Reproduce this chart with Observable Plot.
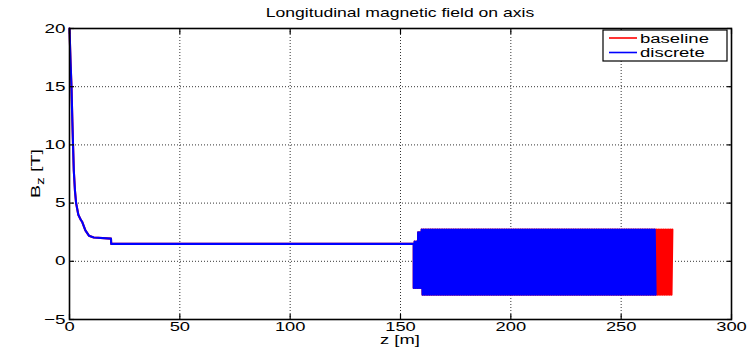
<!DOCTYPE html>
<html><head><meta charset="utf-8">
<script src="https://cdn.jsdelivr.net/npm/d3@7"></script>
<script src="https://cdn.jsdelivr.net/npm/@observablehq/plot@0.6"></script>
<style>
body{margin:0;background:#fff}
svg{font-family:"Liberation Sans",Arial,sans-serif;background:#fff}
</style>
</head><body><div id="chart"></div>
<script>
// ---- data ----
const seriesNames = ["baseline", "discrete"];
const seriesColors = ["#ff0000", "#0000ff"];
const seriesEndZ = [273.4, 266];           // end of the undulator field (m)
// common tapered solenoid part (z in m, Bz in T)
const taperZ = [0, 0.5, 0.9, 1.3, 1.6, 1.95, 2.5, 3.0, 4.0, 5.0, 5.7, 7.2, 8.8, 11, 18.8, 18.9, 156];
const taperB = [20, 17, 15, 12, 10, 7.8, 6, 5, 4.0, 3.6, 3.4, 2.65, 2.2, 2.05, 1.95, 1.5, 1.5];
// oscillating (undulator) part, segments
const oscStartZ = [156, 157.6, 159.6];
const oscHigh = [1.7, 2.5, 2.73];
const oscLow = [-2.3, -2.3, -2.88];
const oscPeriod = 0.8;
const xTicks = [0, 50, 100, 150, 200, 250, 300];
const yTicks = [-5, 0, 5, 10, 15, 20];
const titleText = "Longitudinal magnetic field on axis";
const xLabelText = "z [m]";

function buildSeries(name, endZ) {
  const rows = taperZ.map((z, i) => ({series: name, z, B: taperB[i]}));
  let up = false;
  for (let s = 0; s < oscStartZ.length; s++) {
    const z0 = oscStartZ[s];
    const z1 = s + 1 < oscStartZ.length ? oscStartZ[s + 1] : endZ;
    for (let z = z0; z < z1 - 1e-9; z += oscPeriod / 2) {
      rows.push({series: name, z, B: up ? oscHigh[s] : oscLow[s]});
      up = !up;
    }
  }
  return rows;
}
const rows = seriesNames.flatMap((n, i) => buildSeries(n, seriesEndZ[i]));

const W = 750, H = 348;
const mL = 69, mR = 19, mT = 28, mB = 29;
const FS = 12.4;

const chart = Plot.plot({
  width: W, height: H,
  marginLeft: mL, marginRight: mR, marginTop: mT, marginBottom: mB,
  style: {fontFamily: '"Liberation Sans", Arial, sans-serif', fontSize: FS + "px", color: "#000", background: "#fff"},
  x: {domain: [0, 300]},
  y: {domain: [-5, 20]},
  color: {domain: seriesNames, range: seriesColors},
  marks: [
    Plot.gridX(xTicks, {stroke: "#000", strokeOpacity: 1, strokeWidth: 0.8, strokeDasharray: "1,2"}),
    Plot.gridY(yTicks, {stroke: "#000", strokeOpacity: 1, strokeWidth: 0.8, strokeDasharray: "1,2"}),
    Plot.line(rows, {x: "z", y: "B", z: "series", stroke: "series", strokeWidth: 2.1}),
    Plot.axisX(xTicks, {anchor: "bottom", tickSize: 0, tickPadding: 2.5, label: null, fontSize: FS}),
    Plot.axisX(xTicks, {anchor: "bottom", tickSize: -5, text: null, label: null, strokeWidth: 1.2}),
    Plot.axisX(xTicks, {anchor: "top", tickSize: -5, text: null, label: null, strokeWidth: 1.2}),
    Plot.axisY(yTicks, {anchor: "left", tickSize: 0, tickPadding: 4, label: null, fontSize: 12.8}),
    Plot.axisY(yTicks, {anchor: "left", tickSize: -5, text: null, label: null, strokeWidth: 1.2}),
    Plot.axisY(yTicks, {anchor: "right", tickSize: -5, text: null, label: null, strokeWidth: 1.2}),
    Plot.frame({stroke: "#000", strokeWidth: 1.6})
  ]
});
document.getElementById("chart").appendChild(chart);

const svg = d3.select(chart);
// title
svg.append("text").attr("class", "ttl").attr("x", (mL + W - mR) / 2).attr("y", 17)
  .attr("text-anchor", "middle").attr("font-size", 13.3).attr("fill", "#000").text(titleText);
// x label
svg.append("text").attr("x", (mL + W - mR) / 2).attr("y", 344.3)
  .attr("text-anchor", "middle").attr("font-size", FS).attr("fill", "#000").text(xLabelText);
// y label B_z [T]
const yl = svg.append("text").attr("transform", `translate(40,${(mT + H - mB) / 2}) rotate(-90)`)
  .attr("text-anchor", "middle").attr("font-size", 13.3).attr("fill", "#000");
yl.append("tspan").text("B");
yl.append("tspan").attr("font-size", 10).attr("dy", 4).text("z");
yl.append("tspan").attr("dy", -4).text(" [T]");

// legend
const lg = svg.append("g");
const lx = 603, ly = 30, lw = 124, lh = 31;
lg.append("rect").attr("x", lx).attr("y", ly).attr("width", lw).attr("height", lh)
  .attr("fill", "#fff").attr("stroke", "#000").attr("stroke-width", 1.2);
seriesNames.forEach((n, i) => {
  const cy = ly + 8 + i * 14.5;
  lg.append("line").attr("x1", lx + 6).attr("x2", lx + 34).attr("y1", cy).attr("y2", cy)
    .attr("stroke", seriesColors[i]).attr("stroke-width", 1.6);
  lg.append("text").attr("x", lx + 37).attr("y", cy + 4.5).attr("text-anchor", "start")
    .attr("font-size", 12.5).attr("fill", "#000").text(n);
});

// horizontally stretch all glyphs to match the wide rendering of the original
chart.querySelectorAll("text").forEach(t => {
  const K = t.classList.contains("ttl") ? 1.32 : 1.48;
  const len = t.getComputedTextLength();
  if (len > 0) {
    t.setAttribute("textLength", len * K);
    t.setAttribute("lengthAdjust", "spacingAndGlyphs");
  }
});
</script>
</body></html>
